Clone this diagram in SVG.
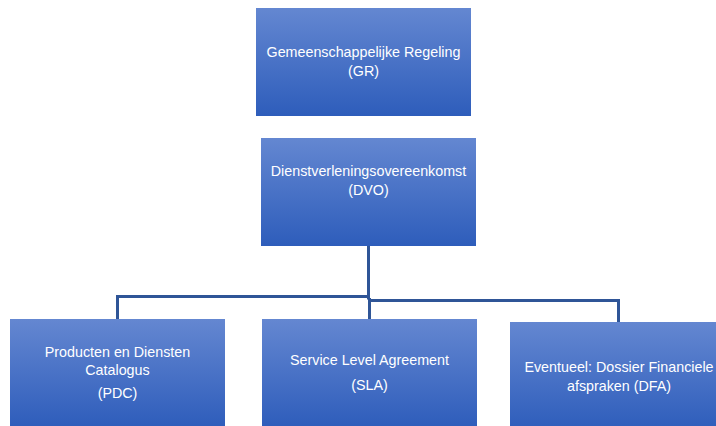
<svg xmlns="http://www.w3.org/2000/svg" width="716" height="426" viewBox="0 0 716 426">
<defs>
<linearGradient id="g" x1="0" y1="0" x2="0" y2="1">
<stop offset="0" stop-color="#6487D1"/>
<stop offset="1" stop-color="#2E5DBB"/>
</linearGradient>
<style>
.box{fill:url(#g);}
.t{font-family:"Liberation Sans",Arial,sans-serif;font-size:14.3px;fill:#ffffff;text-anchor:middle;}
.c{fill:none;stroke:#2F5597;stroke-width:3;}
</style>
</defs>
<rect width="716" height="426" fill="#ffffff"/>
<g id="connectors">
<path class="c" d="M368.5 246 V296.5 H117.5 V319"/>
<path class="c" d="M368.5 296.5 V299.5"/>
<path class="c" d="M370 300.5 H618.5 V322"/>
<path class="c" d="M369.5 298 V319"/>
</g>
<g id="gr">
<rect class="box" x="256" y="8" width="215" height="108"/>
<text class="t" x="363.5" y="57">Gemeenschappelijke Regeling</text>
<text class="t" x="363.5" y="76">(GR)</text>
</g>
<g id="dvo">
<rect class="box" x="261" y="138" width="215" height="108"/>
<text class="t" x="368.5" y="176">Dienstverleningsovereenkomst</text>
<text class="t" x="368.5" y="195">(DVO)</text>
</g>
<g id="pdc">
<rect class="box" x="10" y="319" width="215" height="108"/>
<text class="t" x="117.5" y="357">Producten en Diensten</text>
<text class="t" x="117.5" y="375">Catalogus</text>
<text class="t" x="117.5" y="398">(PDC)</text>
</g>
<g id="sla">
<rect class="box" x="262" y="319" width="215" height="108"/>
<text class="t" x="369.5" y="365">Service Level Agreement</text>
<text class="t" x="369.5" y="390">(SLA)</text>
</g>
<g id="dfa">
<rect class="box" x="510" y="322" width="217" height="108"/>
<text class="t" x="619" y="372">Eventueel: Dossier Financiele</text>
<text class="t" x="619" y="391">afspraken (DFA)</text>
</g>
</svg>
